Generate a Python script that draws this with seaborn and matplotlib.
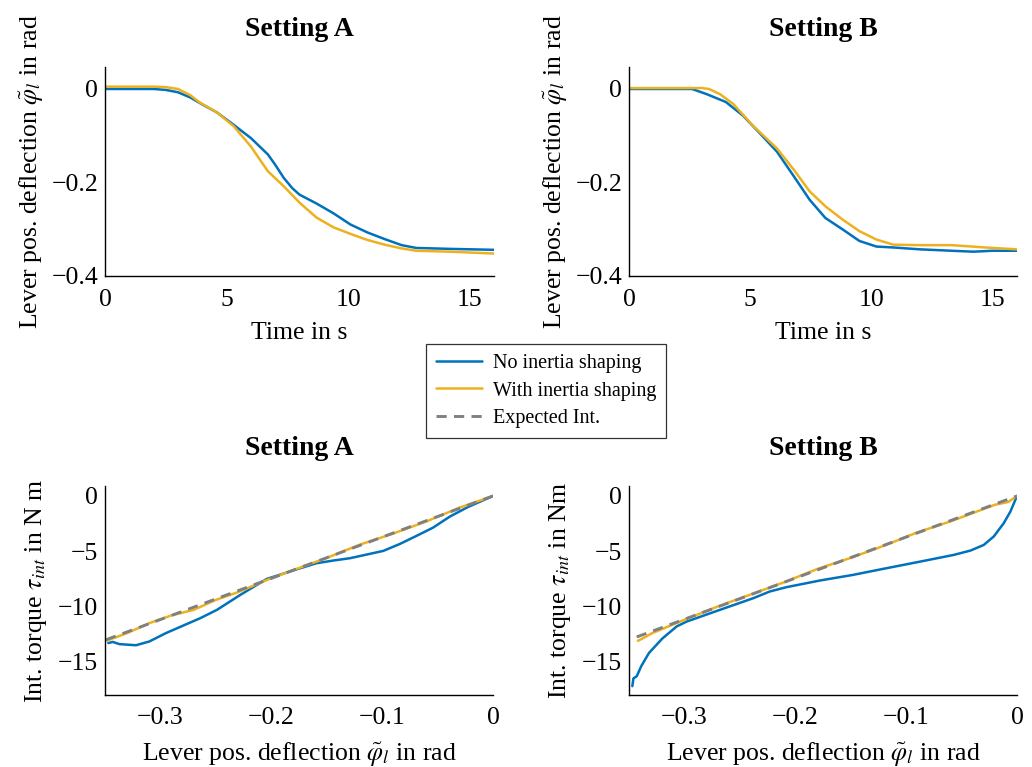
import matplotlib
matplotlib.use("Agg")
import matplotlib.pyplot as plt
import seaborn as sns
import pandas as pd
from matplotlib.lines import Line2D

# ---------------- data ----------------
# Top-left: Setting A, time response
tA_no = [0, 1, 2, 2.5, 3.0, 3.5, 4.0, 4.6, 5.3, 6.0, 6.7, 7.0, 7.35, 7.7, 8.0, 8.7, 9.4, 10.1, 10.8, 11.5, 12.2, 12.8, 14.2, 16]
phiA_no = [0.0, 0.0, 0.0, -0.002, -0.007, -0.018, -0.033, -0.050, -0.077, -0.105, -0.140, -0.162, -0.190, -0.212, -0.226, -0.245, -0.266, -0.290, -0.307, -0.321, -0.334, -0.340, -0.342, -0.344]
tA_with = [0, 1, 2, 2.5, 3.0, 3.5, 3.9, 4.6, 5.3, 6.0, 6.7, 7.35, 8.0, 8.7, 9.4, 10.1, 10.8, 11.5, 12.2, 12.8, 14.2, 16]
phiA_with = [0.005, 0.005, 0.005, 0.004, 0.0, -0.013, -0.029, -0.050, -0.080, -0.123, -0.176, -0.208, -0.243, -0.275, -0.296, -0.310, -0.323, -0.333, -0.341, -0.346, -0.348, -0.352]

# Top-right: Setting B, time response
tB_no = [0, 1, 2, 2.6, 3.2, 4.0, 4.7, 5.4, 6.1, 6.8, 7.45, 8.1, 8.8, 9.5, 10.2, 10.9, 12.0, 13.3, 14.2, 15.0, 16]
phiB_no = [0.0, 0.0, 0.0, 0.0, -0.011, -0.028, -0.057, -0.095, -0.134, -0.187, -0.237, -0.276, -0.300, -0.325, -0.337, -0.339, -0.343, -0.346, -0.348, -0.346, -0.346]
tB_with = [0, 1, 2, 3.0, 3.3, 3.75, 4.3, 5.1, 6.1, 6.8, 7.45, 8.1, 8.8, 9.5, 10.2, 10.9, 12.0, 13.3, 14.7, 16]
phiB_with = [0.002, 0.002, 0.002, 0.002, 0.0, -0.011, -0.032, -0.078, -0.127, -0.173, -0.219, -0.251, -0.279, -0.304, -0.322, -0.333, -0.334, -0.334, -0.339, -0.343]

# Bottom-left: Setting A, torque vs deflection
pA_no = [-0.347, -0.343, -0.337, -0.322, -0.310, -0.295, -0.264, -0.249, -0.228, -0.204, -0.174, -0.159, -0.144, -0.129, -0.099, -0.084, -0.069, -0.054, -0.039, -0.023, 0.0]
tauA_no = [-13.3, -13.2, -13.4, -13.5, -13.16, -12.4, -11.05, -10.3, -8.95, -7.5, -6.54, -6.08, -5.84, -5.63, -4.97, -4.34, -3.61, -2.86, -1.87, -1.02, 0.0]
pA_with = [-0.349, -0.330, -0.310, -0.290, -0.270, -0.250, -0.230, -0.204, -0.180, -0.150, -0.120, -0.090, -0.060, -0.030, 0.0]
tauA_with = [-13.1, -12.4, -11.5, -10.8, -10.3, -9.4, -8.7, -7.6, -6.7, -5.6, -4.4, -3.4, -2.3, -1.05, 0.0]
pA_exp = [-0.349, 0.0]
tauA_exp = [-13.0, 0.0]

# Bottom-right: Setting B, torque vs deflection
pB_no = [-0.347, -0.346, -0.343, -0.339, -0.332, -0.320, -0.307, -0.298, -0.268, -0.238, -0.223, -0.208, -0.178, -0.148, -0.118, -0.087, -0.057, -0.042, -0.030, -0.021, -0.012, -0.006, 0.0]
tauB_no = [-17.2, -16.5, -16.3, -15.4, -14.2, -12.9, -11.8, -11.36, -10.3, -9.25, -8.64, -8.25, -7.65, -7.14, -6.54, -5.93, -5.33, -4.94, -4.43, -3.67, -2.47, -1.42, 0.0]
pB_with = [-0.342, -0.338, -0.329, -0.300, -0.270, -0.240, -0.210, -0.180, -0.150, -0.120, -0.090, -0.060, -0.040, -0.020, -0.008, 0.0]
tauB_with = [-13.1, -12.9, -12.4, -11.2, -10.0, -8.9, -7.8, -6.6, -5.6, -4.5, -3.3, -2.3, -1.55, -0.8, -0.55, 0.0]
pB_exp = [-0.343, 0.0]
tauB_exp = [-12.75, 0.0]

series_labels = ["No inertia shaping", "With inertia shaping", "Expected Int."]
titles = ["Setting A", "Setting B"]

BLUE = "#0072BD"
ORANGE = "#EDB120"
GRAY = "#808080"

# ---------------- style ----------------
sns.set_theme(style="white")
plt.rcParams["font.family"] = ["Liberation Serif", "DejaVu Serif"]
plt.rcParams["mathtext.fontset"] = "stix"
plt.rcParams["text.color"] = "black"
plt.rcParams["axes.labelcolor"] = "black"
plt.rcParams["axes.titlecolor"] = "black"

fig = plt.figure(figsize=(10.32, 7.67), dpi=100)
W, H = 1032, 767

def make_ax(x0, y0, x1, y1):
    return fig.add_axes([x0 / W, 1 - y1 / H, (x1 - x0) / W, (y1 - y0) / H])

ax_tl = make_ax(105, 67, 494, 276)
ax_tr = make_ax(629, 67, 1017, 276)
ax_bl = make_ax(105, 486, 493, 695)
ax_br = make_ax(629, 486, 1017, 695)

LW = 1.8

def draw(ax, x, y, color, ls="-"):
    df = pd.DataFrame({"x": x, "y": y})
    sns.lineplot(data=df, x="x", y="y", ax=ax, color=color, lw=LW, linestyle=ls,
                 sort=False, estimator=None)

draw(ax_tl, tA_no, phiA_no, BLUE)
draw(ax_tl, tA_with, phiA_with, ORANGE)
draw(ax_tr, tB_no, phiB_no, BLUE)
draw(ax_tr, tB_with, phiB_with, ORANGE)

draw(ax_bl, pA_no, tauA_no, BLUE)
draw(ax_bl, pA_with, tauA_with, ORANGE)
ax_bl.plot(pA_exp, tauA_exp, color=GRAY, lw=LW + 0.3, dashes=(3.5, 2.5))
draw(ax_br, pB_no, tauB_no, BLUE)
draw(ax_br, pB_with, tauB_with, ORANGE)
ax_br.plot(pB_exp, tauB_exp, color=GRAY, lw=LW + 0.3, dashes=(3.5, 2.5))

FS = 18.5
TFS = 20
for ax, title in zip([ax_tl, ax_tr], titles):
    ax.set_xlim(0, 16)
    ax.set_ylim(-0.4, 0.047)
    ax.set_xticks([0, 5, 10, 15])
    ax.set_yticks([0, -0.2, -0.4])
    ax.set_yticklabels(["0", "\u22120.2", "\u22120.4"])
    ax.set_xlabel("Time in s", fontsize=FS, labelpad=8)
    ax.set_ylabel(r"Lever pos. deflection $\tilde{\varphi}_l$ in rad", fontsize=FS, labelpad=4)
    ax.set_title(title, fontsize=TFS, fontweight="bold", pad=22)

for ax, title, ylab in zip([ax_bl, ax_br], titles,
                           [r"Int. torque $\tau_{int}$ in N m", r"Int. torque $\tau_{int}$ in Nm"]):
    ax.set_xlim(-0.35, 0)
    ax.set_ylim(-18, 0.9)
    ax.set_xticks([-0.3, -0.2, -0.1, 0])
    ax.set_xticklabels(["\u22120.3", "\u22120.2", "\u22120.1", "0"])
    ax.set_yticks([0, -5, -10, -15])
    ax.set_yticklabels(["0", "\u22125", "\u221210", "\u221215"])
    ax.set_xlabel(r"Lever pos. deflection $\tilde{\varphi}_l$ in rad", fontsize=FS, labelpad=8)
    ax.set_ylabel(ylab, fontsize=FS, labelpad=6)
    ax.set_title(title, fontsize=TFS, fontweight="bold", pad=22)

for ax in [ax_tl, ax_tr, ax_bl, ax_br]:
    ax.set_facecolor("white")
    for s in ["top", "right"]:
        ax.spines[s].set_visible(False)
    for s in ["left", "bottom"]:
        ax.spines[s].set_color("black")
        ax.spines[s].set_linewidth(1.0)
    ax.tick_params(axis="both", which="major", direction="in", length=5, width=1,
                   color="#a8a8a8", labelsize=FS, labelcolor="black")
    ax.tick_params(axis="x", pad=9)
    ax.tick_params(axis="y", pad=5)
    ax.grid(False)

handles = [Line2D([], [], color=BLUE, lw=LW),
           Line2D([], [], color=ORANGE, lw=LW),
           Line2D([], [], color=GRAY, lw=LW + 0.3, dashes=(3.5, 2.5))]
leg = fig.legend(handles, series_labels, loc="center", bbox_to_anchor=(546 / W, 1 - 391 / H),
                 fontsize=14.5, frameon=True, fancybox=False, edgecolor="black",
                 handlelength=2.3, handletextpad=0.5, borderpad=0.5, labelspacing=0.4)
leg.get_frame().set_linewidth(0.9)

fig.savefig("out.png", dpi=100, facecolor="white")
